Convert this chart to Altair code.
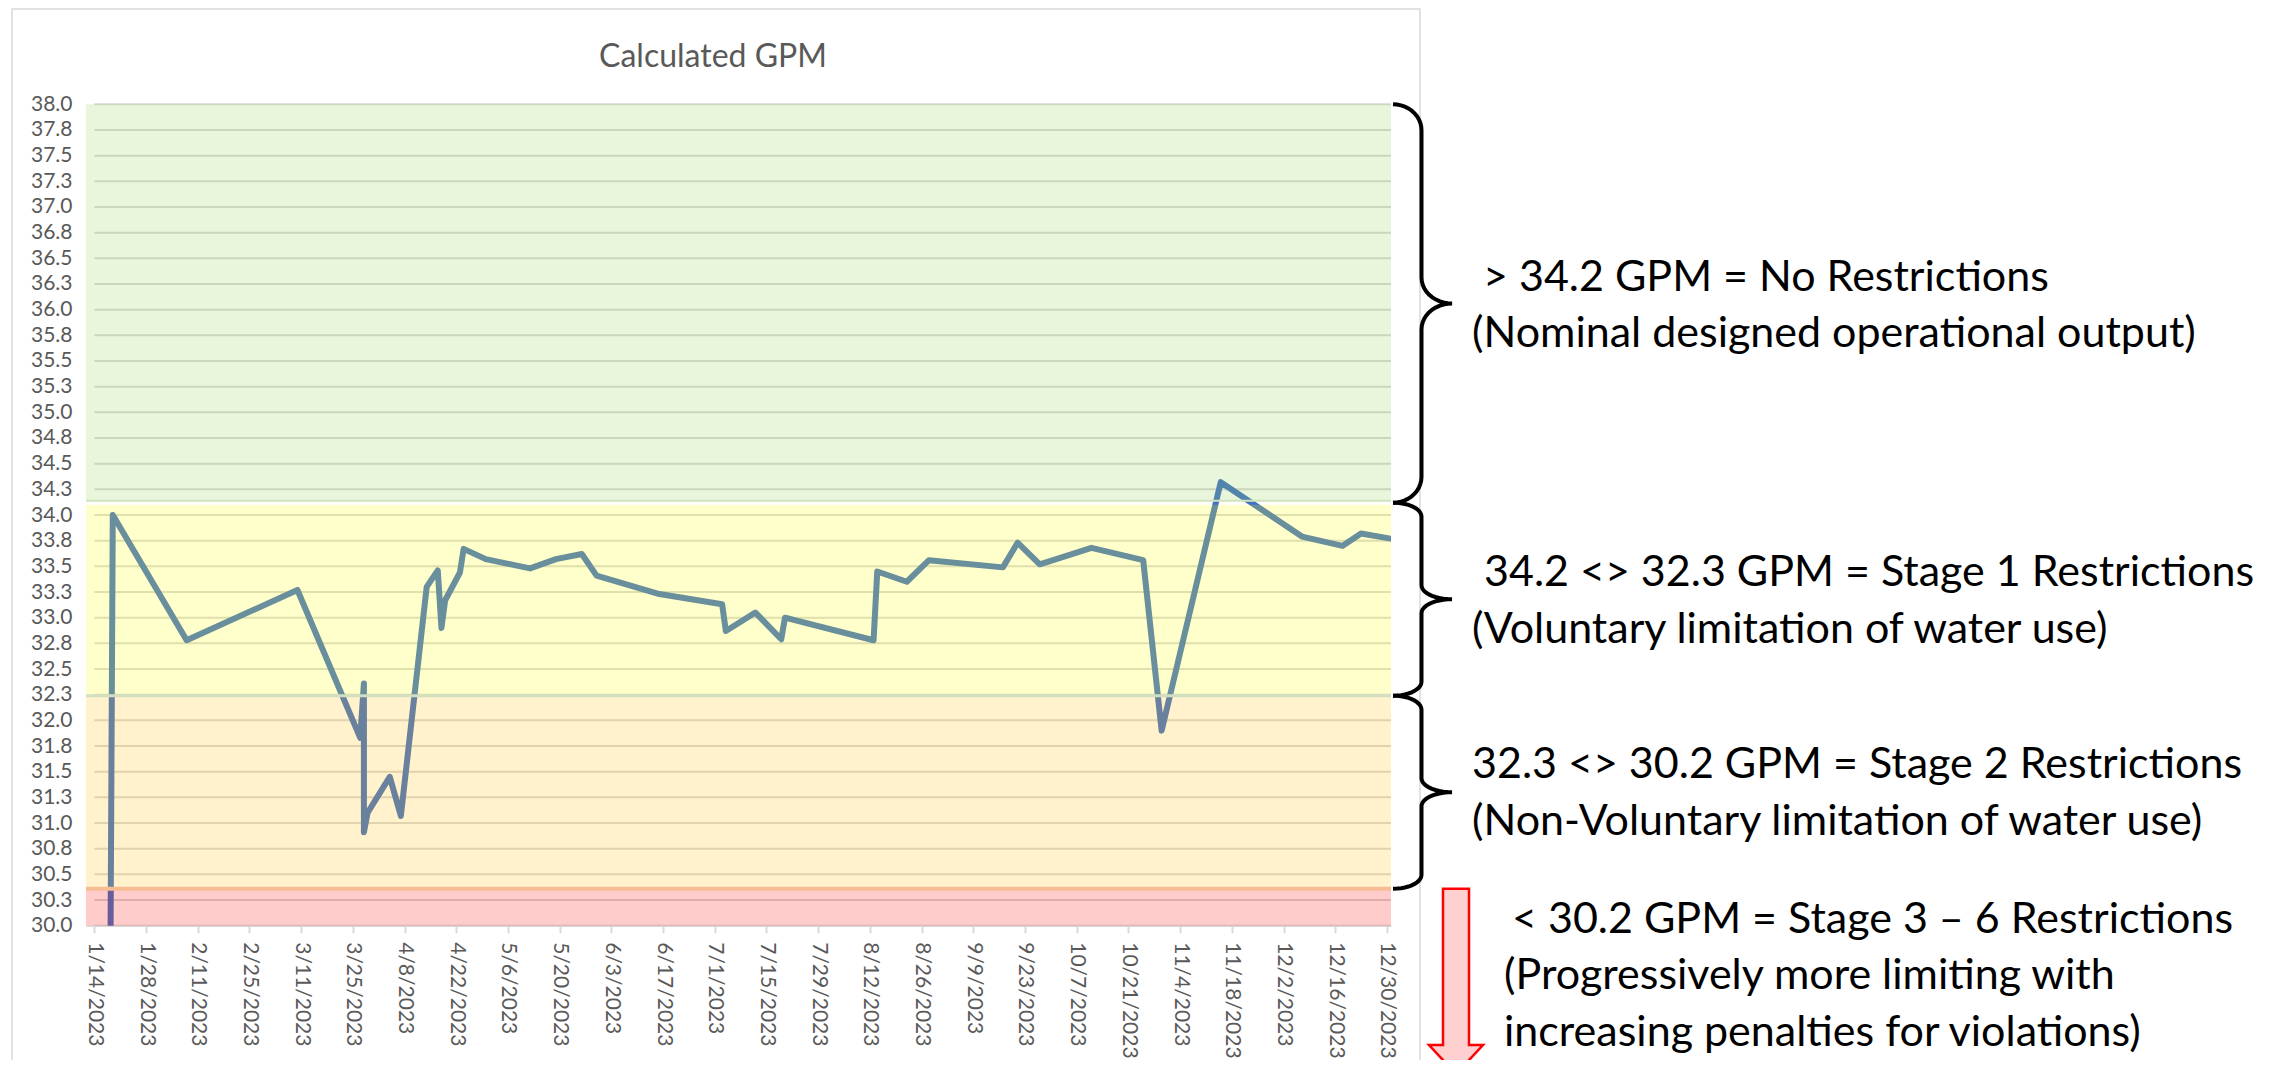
import altair as alt
import numpy as np
import pandas as pd

# ---------------- data ----------------
dates = ["2023-01-14", "2023-01-19", "2023-02-08", "2023-03-10", "2023-03-27",
         "2023-03-28", "2023-03-28", "2023-03-29", "2023-04-04", "2023-04-07",
         "2023-04-14", "2023-04-17", "2023-04-18", "2023-04-19", "2023-04-23",
         "2023-04-24", "2023-04-30", "2023-05-12", "2023-05-19", "2023-05-26",
         "2023-05-30", "2023-06-16", "2023-07-03", "2023-07-04", "2023-07-12",
         "2023-07-19", "2023-07-20", "2023-08-13", "2023-08-14", "2023-08-22",
         "2023-08-28", "2023-09-17", "2023-09-21", "2023-09-27", "2023-10-11",
         "2023-10-25", "2023-10-30", "2023-11-15", "2023-12-07", "2023-12-18",
         "2023-12-23", "2023-12-31"]
gpm = [0.0, 34.00, 32.78, 33.27, 31.83,
       32.36, 30.91, 31.10, 31.45, 31.07,
       33.30, 33.46, 32.90, 33.17, 33.44,
       33.67, 33.57, 33.48, 33.57, 33.62,
       33.41, 33.23, 33.13, 32.87, 33.05,
       32.79, 33.00, 32.78, 33.45, 33.35,
       33.56, 33.49, 33.73, 33.52, 33.68,
       33.56, 31.90, 34.32, 33.79, 33.70,
       33.82, 33.77]

y_ticks = [30.0, 30.25, 30.5, 30.75, 31.0, 31.25, 31.5, 31.75, 32.0, 32.25, 32.5,
           32.75, 33.0, 33.25, 33.5, 33.75, 34.0, 34.25, 34.5, 34.75, 35.0, 35.25,
           35.5, 35.75, 36.0, 36.25, 36.5, 36.75, 37.0, 37.25, 37.5, 37.75, 38.0]
x_ticks = ["2023-01-14", "2023-01-28", "2023-02-11", "2023-02-25", "2023-03-11",
           "2023-03-25", "2023-04-08", "2023-04-22", "2023-05-06", "2023-05-20",
           "2023-06-03", "2023-06-17", "2023-07-01", "2023-07-15", "2023-07-29",
           "2023-08-12", "2023-08-26", "2023-09-09", "2023-09-23", "2023-10-07",
           "2023-10-21", "2023-11-04", "2023-11-18", "2023-12-02", "2023-12-16",
           "2023-12-30"]

band_names = ["No Restrictions", "Stage 1", "Stage 2", "Stage 3 - 6"]
band_top = [38.0, 34.10, 32.24, 30.36]
band_bottom = [34.14, 32.24, 30.36, 30.0]
band_colors = ["#92D050", "#FFFF00", "#FFC000", "#FF0000"]
brace_edges = [38.0, 34.12, 32.24, 30.36]

note_lines = ["> 34.2 GPM = No Restrictions",
              "(Nominal designed operational output)",
              "34.2 <> 32.3 GPM = Stage 1 Restrictions",
              "(Voluntary limitation of water use)",
              "32.3 <> 30.2 GPM = Stage 2 Restrictions",
              "(Non-Voluntary limitation of water use)",
              "< 30.2 GPM = Stage 3 \u2013 6 Restrictions",
              "(Progressively more limiting with",
              "increasing penalties for violations)"]
title_text = "Calculated GPM"

# ---------------- layout (page pixels) ----------------
PAGE_X0, PAGE_Y0 = 86.0, 104.3
PLOT_W, PLOT_H = 1305.0, 821.4
TOTAL_W, TOTAL_H = 2269.0, 1052.0
PAD_L, PAD_T = PAGE_X0 - 8, PAGE_Y0 - 8
PAD_R = TOTAL_W - PAD_L - PLOT_W
PAD_B = TOTAL_H - PAD_T - PLOT_H
Y_MIN, Y_MAX = 30.0, 38.0
PXU = PLOT_H / (Y_MAX - Y_MIN)

X_START = pd.Timestamp("2023-01-11T18:00:00")
X_STOP = pd.Timestamp("2023-12-31T02:30:00")


def py2v(py):
    return Y_MAX - (py - PAGE_Y0) / PXU


def px2t(px):
    t = X_START + (X_STOP - X_START) * ((px - PAGE_X0) / PLOT_W)
    return t.strftime("%Y-%m-%dT%H:%M:%S")


def dt(s):
    y, m, d = s.split("-")
    return alt.DateTime(year=int(y), month=int(m), date=int(d))


FONT = "Lato"
GREY = "#595959"
XS, XE = X_START.strftime("%Y-%m-%dT%H:%M:%S"), X_STOP.strftime("%Y-%m-%dT%H:%M:%S")

x_scale = alt.Scale(domain=[alt.DateTime(year=2023, month=1, date=11, hours=18),
                            alt.DateTime(year=2023, month=12, date=31, hours=2,
                                         minutes=30)], nice=False)
y_scale = alt.Scale(domain=[Y_MIN, Y_MAX], nice=False, zero=False)

x_axis = alt.Axis(values=[dt(s) for s in x_ticks], format="%-m/%-d/%Y", labelAngle=90,
                  labelFont=FONT, labelFontSize=21, labelColor=GREY, labelOverlap=False,
                  labelFlush=False, labelPadding=9, tickColor="#d9d9d9", tickSize=7,
                  tickWidth=2, domainColor="#d9d9d9", domainWidth=1.5, grid=False,
                  title=None)
y_axis = alt.Axis(values=y_ticks, format=".1f", labelFont=FONT, labelFontSize=21,
                  labelColor=GREY, domain=False, ticks=False, labelPadding=14,
                  grid=False, title=None, labelOverlap=False, labelFlush=False)

line_df = pd.DataFrame({"date": [d + "T00:00:00" for d in dates], "gpm": gpm,
                        "idx": list(range(len(dates)))})
grid_df = pd.DataFrame({"y": y_ticks, "xs": "2023-01-14T00:00:00", "xe": XE})
band_df = pd.DataFrame({"name": band_names, "top": band_top, "bottom": band_bottom,
                        "color": band_colors, "xs": XS, "xe": XE})

grid = alt.Chart(grid_df).mark_rule(color="#d9d9d9", strokeWidth=2).encode(
    x=alt.X("xs:T", scale=x_scale, axis=x_axis),
    x2="xe:T",
    y=alt.Y("y:Q", scale=y_scale, axis=y_axis),
)

line = alt.Chart(line_df).mark_line(
    color="#4472C4", strokeWidth=6, clip=True, strokeJoin="round", strokeCap="round"
).encode(
    x=alt.X("date:T", scale=x_scale, axis=x_axis),
    y=alt.Y("gpm:Q", scale=y_scale, axis=y_axis),
    order="idx:Q",
)

bands = alt.Chart(band_df).mark_rect(fillOpacity=0.2).encode(
    x=alt.X("xs:T", scale=x_scale, axis=x_axis),
    x2="xe:T",
    y=alt.Y("top:Q", scale=y_scale, axis=y_axis),
    y2="bottom:Q",
    fill=alt.Fill("color:N", scale=None),
)

edge_df = pd.DataFrame({"y": [band_bottom[0], band_top[2], band_top[3]],
                        "c": ["#cfe3bd", "#d3dfc0", "#f6bd93"],
                        "w": [2, 3, 4], "xs": XS, "xe": XE})
edges = alt.Chart(edge_df).mark_rule().encode(
    x=alt.X("xs:T", scale=x_scale, axis=x_axis),
    x2="xe:T",
    y=alt.Y("y:Q", scale=y_scale, axis=y_axis),
    color=alt.Color("c:N", scale=None),
    strokeWidth=alt.StrokeWidth("w:Q", scale=None),
)

# ---------------- annotations ----------------
X_END, X_SPINE, X_TIP = 1393.0, 1421.5, 1452.0
brace_r = [26.0, 14.0, 14.0]
rows = []
th = np.linspace(0, np.pi / 2, 12)
for i in range(3):
    t, b = brace_edges[i], brace_edges[i + 1]
    m = (t + b) / 2
    r = brace_r[i] / PXU
    pts = []
    for a in th:
        pts.append((X_END + (X_SPINE - X_END) * np.sin(a), (t - r) + r * np.cos(a)))
    for a in th:
        pts.append((X_TIP - (X_TIP - X_SPINE) * np.cos(a), (m + r) - r * np.sin(a)))
    for a in th[::-1]:
        pts.append((X_TIP - (X_TIP - X_SPINE) * np.cos(a), (m - r) + r * np.sin(a)))
    for a in th[::-1]:
        pts.append((X_END + (X_SPINE - X_END) * np.sin(a), (b + r) - r * np.cos(a)))
    for k, (px, vy) in enumerate(pts):
        rows.append({"brace": i, "k": k, "t": px2t(px), "y": float(vy)})
brace_df = pd.DataFrame(rows)

braces = alt.Chart(brace_df).mark_line(color="black", strokeWidth=4).encode(
    x=alt.X("t:T", scale=x_scale, axis=x_axis),
    y=alt.Y("y:Q", scale=y_scale, axis=y_axis),
    detail="brace:N",
    order="k:Q",
)

mids = [(brace_edges[i] + brace_edges[i + 1]) / 2 for i in range(3)]
note_anchor = [mids[0], mids[0], mids[1], mids[1], mids[2], mids[2],
               brace_edges[3], brace_edges[3], brace_edges[3]]
note_off = [-12, 44, -13, 44, -14, 43, 44, 100, 157]
note_x = [1483, 1472, 1484, 1472, 1472, 1472, 1512, 1504, 1504]
note_df = pd.DataFrame({"text": note_lines, "t": [px2t(x) for x in note_x],
                        "y": [a - o / PXU for a, o in zip(note_anchor, note_off)]})
notes = alt.Chart(note_df).mark_text(
    align="left", baseline="alphabetic", font=FONT, fontSize=43, color="black"
).encode(
    x=alt.X("t:T", scale=x_scale, axis=x_axis),
    y=alt.Y("y:Q", scale=y_scale, axis=y_axis),
    text="text:N",
)

title_df = pd.DataFrame({"text": [title_text], "t": [px2t(713.0)], "y": [py2v(67.0)]})
title = alt.Chart(title_df).mark_text(
    align="center", baseline="alphabetic", font=FONT, fontSize=32, color=GREY
).encode(
    x=alt.X("t:T", scale=x_scale, axis=x_axis),
    y=alt.Y("y:Q", scale=y_scale, axis=y_axis),
    text="text:N",
)

frame_df = pd.DataFrame({"x1": [px2t(12.0)], "x2": [px2t(1420.0)],
                         "y1": [py2v(9.0)], "y2": [py2v(1300.0)]})
frame = alt.Chart(frame_df).mark_rect(fillOpacity=0, stroke="#d9d9d9",
                                       strokeWidth=1.5).encode(
    x=alt.X("x1:T", scale=x_scale, axis=x_axis), x2="x2:T",
    y=alt.Y("y1:Q", scale=y_scale, axis=y_axis), y2="y2:Q",
)

# closed arrow outline: shaft then head
arrow_px = [1443.0, 1469.0, 1469.0, 1483.0, 1456.0, 1429.0, 1443.0]
arrow_py = [None, None, 1045.0, 1045.0, 1074.0, 1045.0, 1045.0]
arrow_df = pd.DataFrame({
    "k": list(range(len(arrow_px))),
    "t": [px2t(x) for x in arrow_px],
    "y": [brace_edges[3] if p is None else py2v(p) for p in arrow_py],
})
arrow = alt.Chart(arrow_df).mark_line(
    interpolate="linear-closed", fill="#ffd0d0", stroke="#ff0000", strokeWidth=2.5,
    strokeJoin="miter"
).encode(
    x=alt.X("t:T", scale=x_scale, axis=x_axis),
    y=alt.Y("y:Q", scale=y_scale, axis=y_axis),
    order="k:Q",
)

chart = alt.layer(frame, grid, line, bands, edges, title, braces, notes, arrow).properties(
    width=PLOT_W, height=PLOT_H,
    autosize=alt.AutoSizeParams(type="none"),
    padding={"left": PAD_L, "top": PAD_T, "right": PAD_R, "bottom": PAD_B},
    background="white",
).configure_view(stroke=None)

chart.save("out.html", embed_options={"renderer": "svg", "actions": False})
